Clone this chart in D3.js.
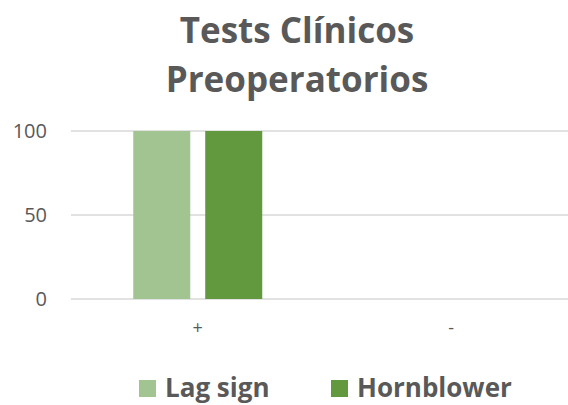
<!DOCTYPE html>
<html>
<head>
<meta charset="utf-8">
<script src="https://cdn.jsdelivr.net/npm/d3@7"></script>
<style>
  html, body { margin: 0; padding: 0; background: #fff; }
  svg { display: block; font-family: "Open Sans", sans-serif; }
</style>
</head>
<body>
<svg id="chart" width="568" height="405"></svg>
<script>
const titleLines = ["Tests Clínicos", "Preoperatorios"];
const categories = ["+", "-"];
const seriesNames = ["Lag sign", "Hornblower"];
const lagSign = [100, 0];
const hornblower = [100, 0];
const yTicks = [0, 50, 100];
const colors = ["#A2C490", "#62993E"];

const seriesValues = [lagSign, hornblower];
const data = categories.map((c, i) => ({
  category: c,
  values: seriesNames.map((s, j) => ({ series: s, value: seriesValues[j][i] }))
}));

const svg = d3.select("#chart");
const W = 568, H = 405;
const margin = { left: 71, right: -10, top: 131, bottom: 106 };

const x0 = d3.scaleBand().domain(categories).range([margin.left, W - margin.right]).padding(0);
const x1 = d3.scaleBand().domain(seriesNames).range([0, x0.bandwidth()])
  .paddingInner(0.208).paddingOuter(0.865);
const y = d3.scaleLinear().domain([0, 100]).range([H - margin.bottom, margin.top]);

// gridlines
svg.append("g")
  .selectAll("line").data(yTicks).join("line")
  .attr("x1", margin.left).attr("x2", W)
  .attr("y1", d => y(d)).attr("y2", d => y(d))
  .attr("stroke", "#D9D9D9").attr("stroke-width", 1.3);

// y axis labels
const yAxis = d3.axisLeft(y).tickValues(yTicks).tickSize(0).tickPadding(24);
const yg = svg.append("g").attr("transform", `translate(${margin.left},0)`).call(yAxis);
yg.select(".domain").remove();
yg.selectAll("text").attr("fill", "#595959").style("font-size", "20px").style("font-family", "Open Sans");

// bars
svg.append("g").selectAll("g").data(data).join("g")
  .attr("transform", d => `translate(${x0(d.category)},0)`)
  .selectAll("rect").data(d => d.values).join("rect")
  .attr("x", d => x1(d.series))
  .attr("width", x1.bandwidth())
  .attr("y", d => y(d.value))
  .attr("height", d => y(0) - y(d.value))
  .attr("fill", (d, i) => colors[i]);

// x axis labels
const xAxis = d3.axisBottom(x0).tickSize(0).tickPadding(22);
const xg = svg.append("g").attr("transform", `translate(0,${y(0)})`).call(xAxis);
xg.select(".domain").remove();
xg.selectAll("text").attr("fill", "#595959").style("font-size", "18px").style("font-family", "Open Sans");

// title
svg.append("text")
  .attr("text-anchor", "middle")
  .attr("fill", "#595959")
  .style("font-weight", "bold")
  .style("font-size", "35px")
  .selectAll("tspan").data(titleLines).join("tspan")
  .attr("x", 297).attr("y", (d, i) => 43 + i * 49)
  .text(d => d);

// legend
const legendX = [139, 331];
const lg = svg.append("g").selectAll("g").data(seriesNames).join("g")
  .attr("transform", (d, i) => `translate(${legendX[i]},380)`);
lg.append("rect").attr("width", 17).attr("height", 17).attr("fill", (d, i) => colors[i]);
lg.append("text").attr("x", 26).attr("y", 17)
  .attr("fill", "#595959").style("font-weight", "bold").style("font-size", "26px")
  .text(d => d);
</script>
</body>
</html>
